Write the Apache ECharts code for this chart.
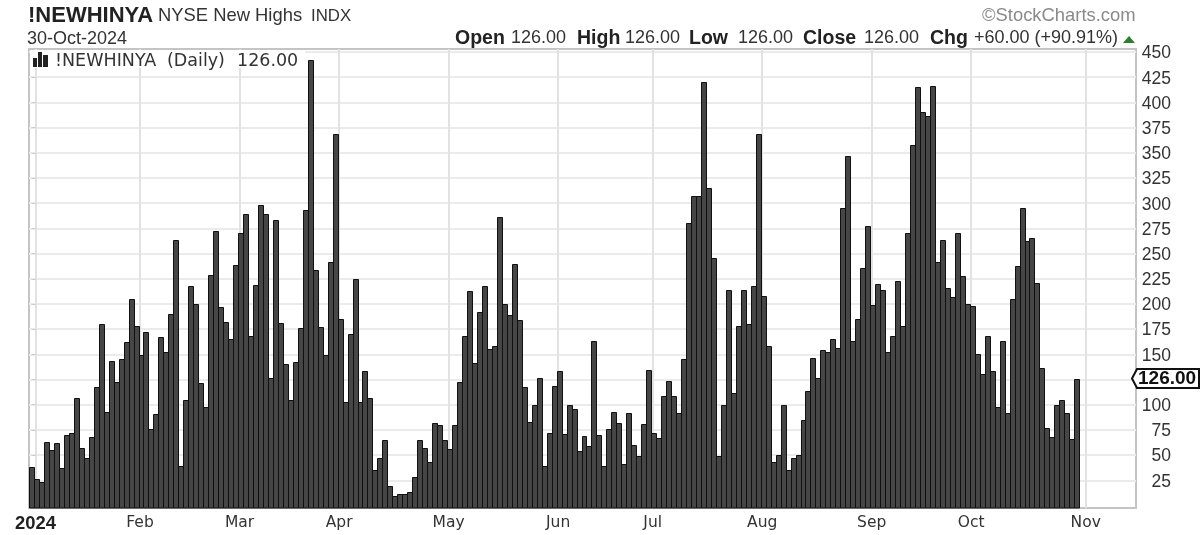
<!DOCTYPE html>
<html><head><meta charset="utf-8">
<style>html,body{margin:0;padding:0;background:#fff}#c{width:1200px;height:535px}</style>
<script src="https://cdn.jsdelivr.net/npm/echarts@6/dist/echarts.min.js"></script>
</head><body><div id="c"></div>
<script>
const newHighs=[38,26,23,63,55,62,37,70,72,107,57,47,68,118,180,93,143,123,145,162,205,178,149,172,76,91,167,152,190,263,39,105,218,200,122,98,229,272,197,182,165,239,270,289,168,219,298,289,127,283,181,140,105,142,176,
293,442,234,177,149,242,369,185,103,170,225,103,133,107,35,47,65,19,9,11,11,13,28,65,57,43,82,80,65,56,80,123,168,213,141,192,218,155,158,286,200,189,240,184,118,83,100,127,39,72,119,133,71,100,96,54,69,59,163,70,
39,76,93,82,41,92,60,49,81,134,72,67,109,124,109,92,145,280,307,307,420,315,246,49,100,214,112,178,214,180,218,369,208,158,43,50,100,35,47,50,85,114,146,127,154,152,165,156,295,347,163,185,236,277,199,220,214,152,168,223,
178,270,358,415,390,387,416,242,263,216,207,270,228,200,198,150,130,168,133,98,163,92,205,238,295,262,265,221,136,77,68,100,105,92,66,126];
const monthIndex=[1,22,42,62,84,106,125,147,169,189,212];
const monthLabels=['2024','Feb','Mar','Apr','May','Jun','Jul','Aug','Sep','Oct','Nov'];
const yTicks=[25,50,75,100,125,150,175,200,225,250,275,300,325,350,375,400,425,450];
const lastValue=126;
const quote=[['Open','126.00',455,511],['High','126.00',577,625],['Low','126.00',689,738],['Close','126.00',803,864],['Chg','+60.00 (+90.91%)',930,974]];

const labelOf=new Map(monthIndex.map((m,i)=>[m,monthLabels[i]]));
const yMin=-2.5;
const chart=echarts.init(document.getElementById('c'),null,{renderer:'canvas'});
const T=(x,y,text,font,fill,extra)=>Object.assign({type:'text',x,y,z:21,silent:true,style:{text,font,fill,textVerticalAlign:'middle'}},extra||{});
const headerGraphics=[
 {type:'rect',silent:true,z:20,shape:{x:30,y:50,width:275,height:18},style:{fill:'#fff'}},
 T(28,16,'!NEWHINYA','bold 22px "Liberation Sans"','#222'),
 T(158,16,'NYSE New Highs','18.4px "Liberation Sans"','#333'),
 T(311,16,'INDX','16.8px "Liberation Sans"','#333'),
 T(27,39,'30-Oct-2024','18px "Liberation Sans"','#333'),
 T(982,16,'©StockCharts.com','18.4px "Liberation Sans"','#8a8a8a'),
 T(55,61,'!NEWHINYA','17.5px "DejaVu Sans"','#333'),
 T(167,61,'(Daily)','17.5px "DejaVu Sans"','#333'),
 T(237,61,'126.00','17.5px "DejaVu Sans"','#333'),
 {type:'polygon',silent:true,z:21,shape:{points:[[1123,43],[1129,36],[1135,43]]},style:{fill:'#2e7d32'}},
 {type:'rect',silent:true,z:21,shape:{x:33,y:58,width:4,height:9},style:{fill:'#222'}},
 {type:'rect',silent:true,z:21,shape:{x:38,y:52,width:4,height:15},style:{fill:'#222'}},
 {type:'rect',silent:true,z:21,shape:{x:43,y:55,width:5,height:12},style:{fill:'#222'}}
];
quote.forEach(q=>{
 headerGraphics.push(T(q[2],38.5,q[0],'bold 19.5px "Liberation Sans"','#222'));
 headerGraphics.push(T(q[3],38.5,q[1],'18px "Liberation Sans"','#333'));
});
chart.setOption({
 animation:false,
 backgroundColor:'#fff',
 grid:{left:29,right:64,top:49,bottom:27,containLabel:false,show:true,borderColor:'#c4c4c4',borderWidth:2,backgroundColor:'#fff'},
 xAxis:{type:'value',min:-0.5,max:221.9,
  axisLine:{show:false},
  axisTick:{show:true,customValues:monthIndex.map(m=>m-0.2),length:3,lineStyle:{color:'#e2e2e2'}},
  splitLine:{show:true,lineStyle:{color:'#e2e2e2',width:2}},
  axisLabel:{customValues:monthIndex.map(m=>m-0.2),showMinLabel:true,showMaxLabel:true,margin:7,hideOverlap:false,
   formatter:v=>{const s=labelOf.get(Math.round(v+0.2))||'';return s==='2024'?'{y|2024}':'{m|'+s+'}';},
   rich:{y:{fontFamily:'Liberation Sans',fontWeight:'bold',fontSize:18.4,color:'#222'},m:{fontFamily:'DejaVu Sans',fontSize:15.5,color:'#333'}}}},
 yAxis:{type:'value',position:'right',min:yMin,max:453,
  axisLine:{show:false},
  axisTick:{show:true,customValues:yTicks,length:4,lineStyle:{color:'#ccc'}},
  splitLine:{show:true,lineStyle:{color:'#ebebeb',width:2}},
  axisLabel:{customValues:yTicks,margin:35,align:'right',formatter:'{a|{value}}',
   rich:{a:{padding:[3,0,0,0],fontSize:17.5,fontFamily:'Liberation Sans',color:'#333'}}}},
 series:[{type:'custom',clip:false,silent:true,data:newHighs.map((v,i)=>[i,v]),encode:{x:0,y:1},
  renderItem:(p,api)=>{
   const top=api.coord([api.value(0),api.value(1)]);
   const base=api.coord([api.value(0),yMin]);
   const w=api.size([1,0])[0];
   const l=Math.round(top[0]-w/2)+0.5,r=Math.round(top[0]+w/2)+0.5,t=Math.round(top[1])+0.5,b=Math.round(base[1]);
   return {type:'rect',shape:{x:l,y:t,width:r-l,height:b-t},style:{fill:'#464646',stroke:'#101010',lineWidth:1}};
  }}],
 graphic:headerGraphics
});
const tagY=chart.convertToPixel({yAxisIndex:0},lastValue);
const h=9.5,l=1132,n=1137,r=1199;
chart.setOption({graphic:headerGraphics.concat([
 {type:'polygon',silent:true,z:50,shape:{points:[[l,tagY],[n,tagY-h],[r,tagY-h],[r,tagY+h],[n,tagY+h]]},style:{fill:'#fff',stroke:'#111',lineWidth:2}},
 T(1138,tagY+0.5,lastValue.toFixed(2),'bold 19px "Liberation Sans"','#111',{z:51})
])});
</script></body></html>
